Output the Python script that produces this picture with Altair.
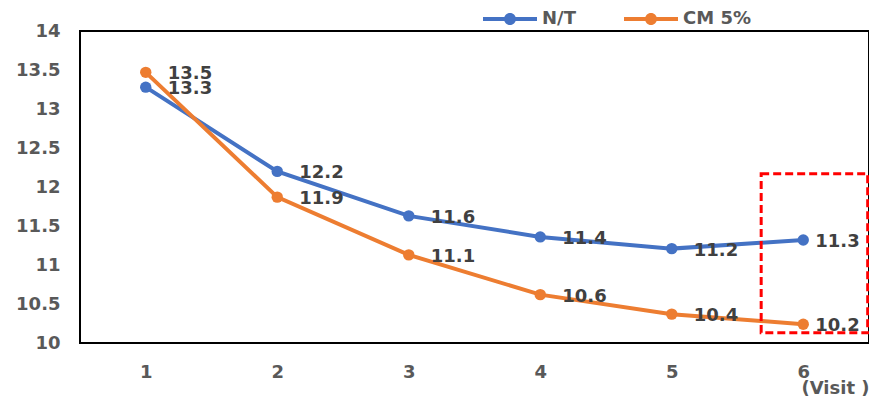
import altair as alt
import pandas as pd

visits = [1, 2, 3, 4, 5, 6]
series_names = ["N/T", "CM 5%"]
series_colors = ["#4472C4", "#ED7D31"]
nt_values = [13.28, 12.20, 11.63, 11.36, 11.21, 11.32]
cm_values = [13.47, 11.87, 11.13, 10.62, 10.37, 10.24]
nt_labels = ["13.3", "12.2", "11.6", "11.4", "11.2", "11.3"]
cm_labels = ["13.5", "11.9", "11.1", "10.6", "10.4", "10.2"]
y_ticks = [10, 10.5, 11, 11.5, 12, 12.5, 13, 13.5, 14]
x_title = "(Visit )"
highlight_x = [5.68, 6.49]
highlight_y = [10.13, 12.17]

rows = []
for name, vals, labs in [(series_names[0], nt_values, nt_labels),
                         (series_names[1], cm_values, cm_labels)]:
    for v, val, lab in zip(visits, vals, labs):
        rows.append({"visit": v, "value": val, "label": lab, "series": name})
df = pd.DataFrame(rows)
box = pd.DataFrame([{"visit": highlight_x[0], "visit2": highlight_x[1],
                     "value": highlight_y[0], "value2": highlight_y[1]}])

FONT = "DejaVu Sans"
AX = "#595959"

xs = alt.Scale(domain=[0.5, 6.5], nice=False, zero=False)
ys = alt.Scale(domain=[10, 14], nice=False, zero=False)
cs = alt.Scale(domain=series_names, range=series_colors)

x_axis = alt.Axis(
    values=visits, format="d", domain=False, ticks=False, grid=False,
    labelPadding=20, labelFont=FONT, labelFontSize=18, labelFontWeight="bold",
    labelColor=AX, labelOverlap=False, title=x_title, titleFont=FONT,
    titleFontSize=18, titleFontWeight="bold", titleColor=AX, titleAnchor="end",
    titleAlign="right", titleX=789, titleY=50, titleBaseline="alphabetic")
y_axis = alt.Axis(
    values=y_ticks, format="~g", domain=False, ticks=False, grid=False,
    labelPadding=20, labelFont=FONT, labelFontSize=18, labelFontWeight="bold",
    labelColor=AX, labelOverlap=False, title=None)

x_enc = alt.X("visit:Q", scale=xs, axis=x_axis)
y_enc = alt.Y("value:Q", scale=ys, axis=y_axis)

# line segment drawn as a thin filled bar, plus a filled circle
legend_path = ("M-4.5,-0.33L4.5,-0.33L4.5,0.33L-4.5,0.33Z"
               "M1,0A1,1,0,1,1,-1,0A1,1,0,1,1,1,0Z")
leg = alt.Legend(
    title=None, orient="none", legendX=421, legendY=-21, direction="horizontal",
    symbolType=legend_path, symbolSize=144, symbolStrokeWidth=0,
    symbolFillColor="#000000", labelOffset=23, columnPadding=48,
    labelFont=FONT, labelFontSize=18, labelFontWeight="bold", labelColor=AX)

color_enc = alt.Color("series:N", scale=cs, sort=series_names, legend=leg)

base = alt.Chart(df)

lines = base.mark_line(strokeWidth=4).encode(x=x_enc, y=y_enc, color=color_enc)

points = base.mark_point(filled=True, size=130, opacity=1).encode(
    x=x_enc, y=y_enc, color=color_enc)

labels_main = base.transform_filter(alt.datum.visit < 6).mark_text(
    align="left", baseline="middle", dx=22, dy=2, font=FONT,
    fontSize=18, fontWeight="bold", color="#404040").encode(
    x=x_enc, y=y_enc, text="label:N")

labels_last = base.transform_filter(alt.datum.visit == 6).mark_text(
    align="left", baseline="middle", dx=12, dy=2, font=FONT,
    fontSize=18, fontWeight="bold", color="#404040").encode(
    x=x_enc, y=y_enc, text="label:N")

rect = alt.Chart(box).mark_rect(fillOpacity=0, stroke="#FF0000", strokeWidth=3,
                                strokeDash=[8, 4]).encode(
    x=x_enc, x2="visit2:Q", y=y_enc, y2="value2:Q")

chart = alt.layer(lines, points, labels_main, labels_last, rect).properties(
    width=789, height=312,
    autosize=alt.AutoSizeParams(type="none"),
    padding={"left": 72, "top": 23, "right": 0, "bottom": 53},
    background="white",
).configure_view(stroke="#000000", strokeWidth=2)

chart.save("out.html", embed_options={"renderer": "svg", "actions": False})
